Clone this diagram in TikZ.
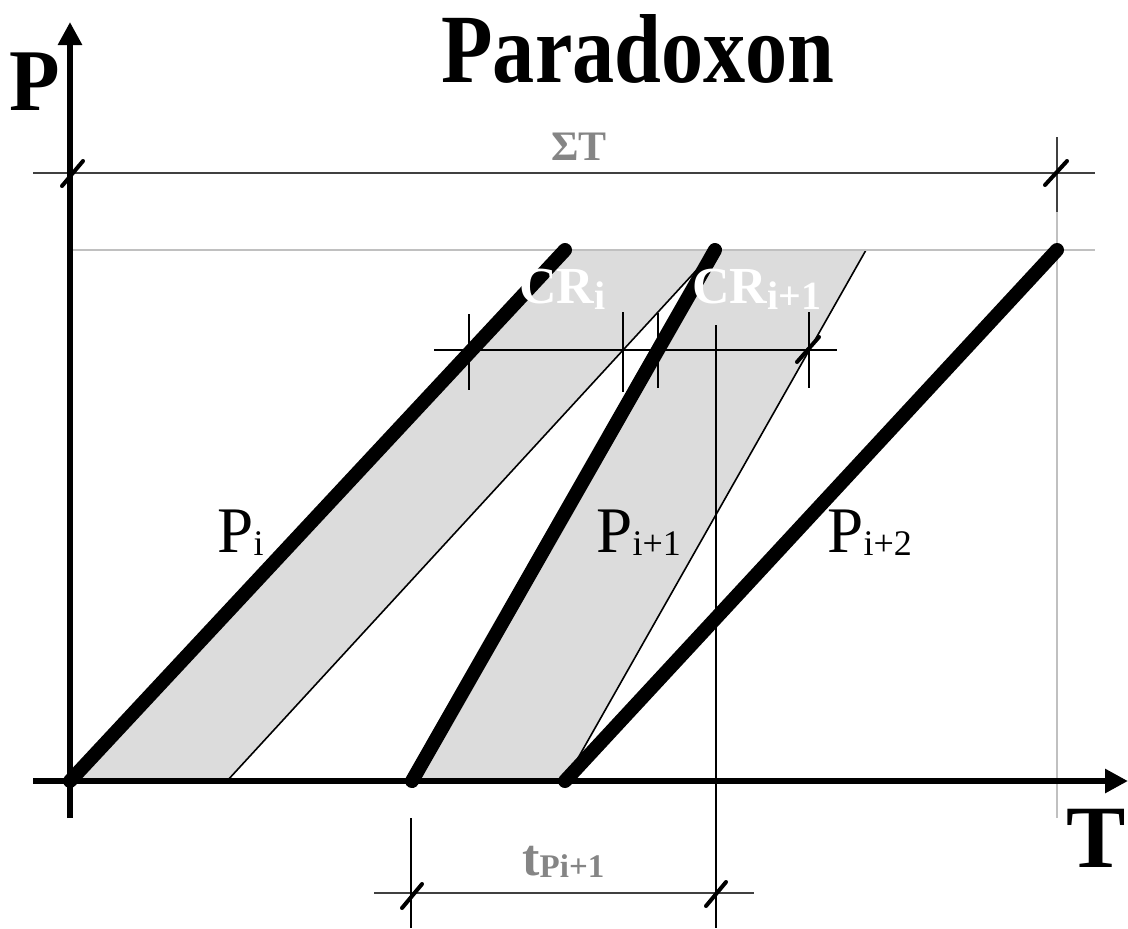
\documentclass[tikz,border=0pt]{standalone}
\usepackage{fontspec}
\setmainfont{Liberation Serif}
\usetikzlibrary{arrows.meta}
\definecolor{bandgray}{HTML}{DCDCDC}
\definecolor{lightline}{HTML}{C0C0C0}
\definecolor{dimline}{HTML}{404040}
\definecolor{labelgray}{HTML}{858585}
\begin{document}
\begin{tikzpicture}[x=0.5pt,y=-0.5pt,
  axis/.style={line width=3pt,-{Triangle[length=11.5pt,width=11.5pt]}},
  bar/.style={line width=7pt,line cap=round},
  edge/.style={line width=0.8pt},
  band/.style={fill=bandgray},
  dimen/.style={line width=0.7pt,draw=dimline},
  guide/.style={line width=0.6pt,draw=black},
  faint/.style={line width=0.6pt,draw=lightline},
  slash/.style={line width=2pt,line cap=round},
  lbl/.style={inner sep=0pt,anchor=base west}]
\useasboundingbox (0,0) rectangle (1128,928);
% key points
\coordinate (Pa0) at (70,781);  \coordinate (Pa1) at (565,250);
\coordinate (Pb0) at (412,781); \coordinate (Pb1) at (715,250);
\coordinate (Pc0) at (565,781); \coordinate (Pc1) at (1057,250);
\coordinate (Ra0) at (227,781); \coordinate (Rb1) at (866,250);
% bands
\fill[band] (Pa0)--(Pa1)--(Pb1)--(Ra0)--cycle;
\fill[band] (Pb0)--(Pb1)--(Rb1)--(Pc0)--cycle;
\draw[edge] (Ra0)--(Pb1);
\draw[edge] (Pc0)--(Rb1);
% guide lines
\coordinate (TopL) at (70,250); \coordinate (TopR) at (1095,250);
\draw[faint] (TopL)--(TopR);
\coordinate (SigL) at (33,173); \coordinate (SigR) at (1095,173);
\draw[dimen] (SigL)--(SigR);
\coordinate (Va) at (1057,137); \coordinate (Vb) at (1057,212); \coordinate (Vc) at (1057,818);
\draw[dimen] (Va)--(Vb);
\draw[faint] (Vb)--(Vc);
% axes
\coordinate (YB) at (70,818); \coordinate (YT) at (70,22);
\coordinate (XL) at (33,781); \coordinate (XR) at (1128,781);
\draw[axis] (YB)--(YT);
\draw[axis] (XL)--(XR);
% thick lines
\draw[bar] (Pa0)--(Pa1);
\draw[bar] (Pb0)--(Pb1);
\draw[bar] (Pc0)--(Pc1);
% CR dimension
\coordinate (CrL) at (434,350); \coordinate (CrR) at (837,350);
\draw[guide] (CrL)--(CrR);
\coordinate (k1a) at (469,314); \coordinate (k1b) at (469,390);
\coordinate (k2a) at (623,312); \coordinate (k2b) at (623,392);
\coordinate (k3a) at (658,313); \coordinate (k3b) at (658,388);
\coordinate (k4a) at (809,312); \coordinate (k4b) at (809,388);
\draw[guide] (k1a)--(k1b);
\draw[guide] (k2a)--(k2b);
\draw[guide] (k3a)--(k3b);
\draw[guide] (k4a)--(k4b);
\coordinate (s1a) at (797,362); \coordinate (s1b) at (819,337);
\draw[slash] (s1a)--(s1b);
\coordinate (V7a) at (716,325); \coordinate (V7b) at (716,928);
\draw[guide] (V7a)--(V7b);
% bottom dimension
\coordinate (BdL) at (374,893); \coordinate (BdR) at (754,893);
\draw[dimen] (BdL)--(BdR);
\coordinate (V4a) at (411,818); \coordinate (V4b) at (411,928);
\draw[guide] (V4a)--(V4b);
\coordinate (s2a) at (402,908); \coordinate (s2b) at (422,884);
\coordinate (s3a) at (706,906); \coordinate (s3b) at (726,882);
\draw[slash] (s2a)--(s2b);
\draw[slash] (s3a)--(s3b);
% sigma T slashes
\coordinate (s4a) at (62,186); \coordinate (s4b) at (83,161);
\coordinate (s5a) at (1045,185); \coordinate (s5b) at (1067,161);
\draw[slash] (s4a)--(s4b);
\draw[slash] (s5a)--(s5b);
% texts
\node[lbl] (title) at (441,82) {\scalebox{0.86}[1]{\fontsize{49pt}{49pt}\selectfont\bfseries Paradoxon}};
\node[lbl] (Plab) at (9,110) {\scalebox{0.94}[1]{\fontsize{44pt}{44pt}\selectfont\bfseries P}};
\node[lbl] (Tlab) at (1066,867) {\fontsize{44.5pt}{44.5pt}\selectfont\bfseries T};
\node[lbl,text=labelgray] (sig) at (551,160) {\fontsize{21pt}{21pt}\selectfont\bfseries ΣT};
\node[lbl] (pi) at (217,552) {\fontsize{32.5pt}{32.5pt}\selectfont P\raisebox{-1.5pt}{\fontsize{18pt}{18pt}\selectfont i}};
\node[lbl] (pi1) at (596,552) {\fontsize{32.5pt}{32.5pt}\selectfont P\raisebox{-1.5pt}{\fontsize{18pt}{18pt}\selectfont i+1}};
\node[lbl] (pi2) at (827,552) {\fontsize{32.5pt}{32.5pt}\selectfont P\raisebox{-1.5pt}{\fontsize{18pt}{18pt}\selectfont i+2}};
\node[lbl,text=white] (cri) at (519,303) {\fontsize{26pt}{26pt}\selectfont\bfseries CR\raisebox{-3pt}{\fontsize{20pt}{20pt}\selectfont i}};
\node[lbl,text=white] (cri1) at (692,303) {\fontsize{26pt}{26pt}\selectfont\bfseries CR\raisebox{-3pt}{\fontsize{20pt}{20pt}\selectfont i+1}};
\node[lbl,text=labelgray] (tp) at (522,875) {\fontsize{26pt}{26pt}\selectfont\bfseries t\raisebox{-1pt}{\fontsize{16.5pt}{16.5pt}\selectfont Pi+1}};
\end{tikzpicture}
\end{document}
